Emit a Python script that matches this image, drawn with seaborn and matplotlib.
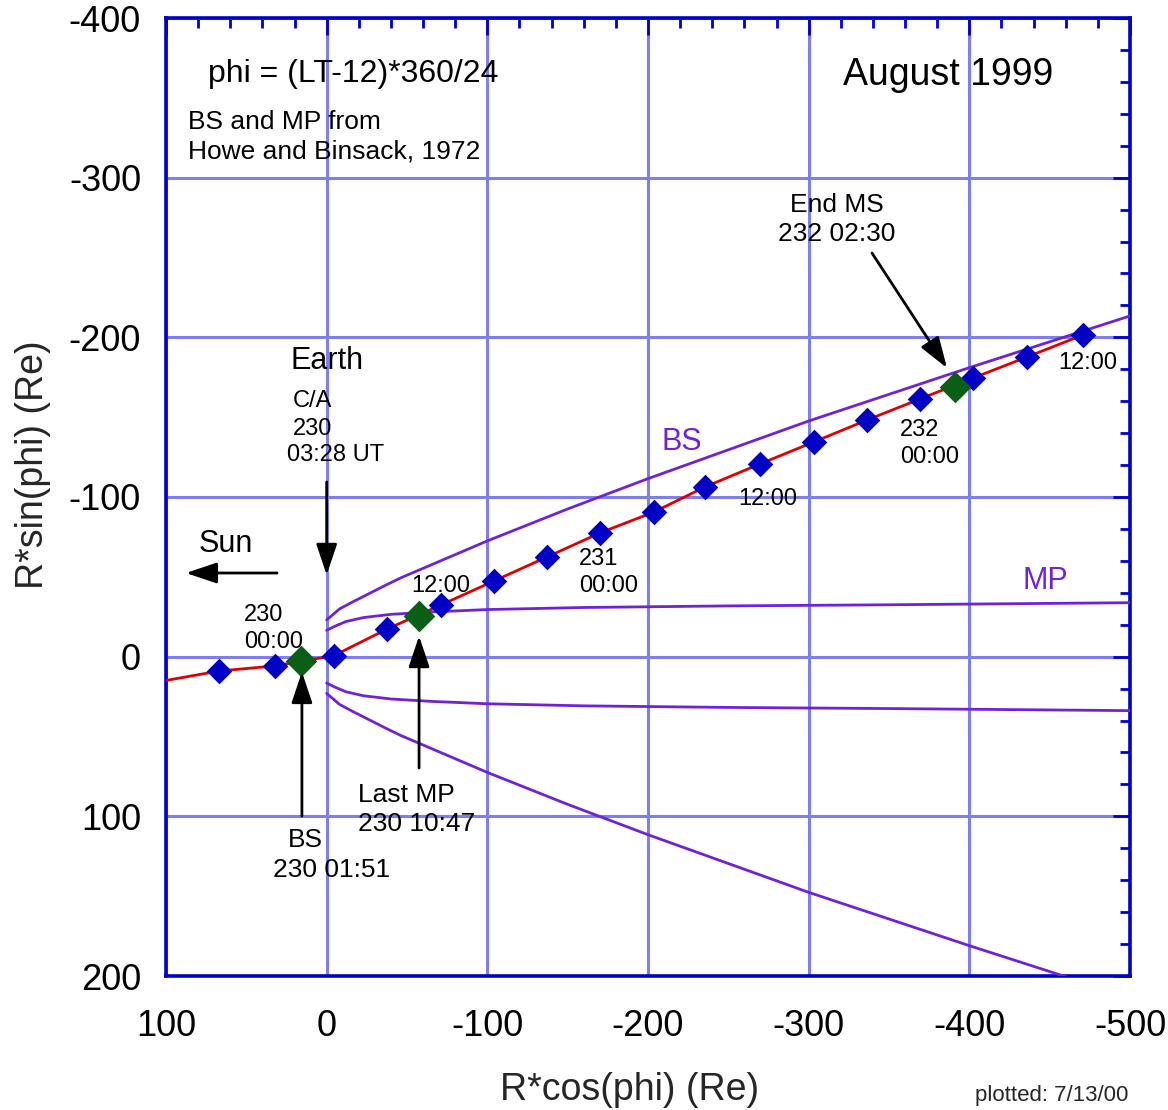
import matplotlib
matplotlib.use("Agg")
import matplotlib.pyplot as plt
from matplotlib.ticker import MultipleLocator
from matplotlib.patches import FancyArrowPatch
import seaborn as sns
import pandas as pd

# ---------------- data ----------------
# spacecraft positions every 4 h, starting 229 20:00 (blue diamonds)
traj_x = [67.0, 32.2, -4.6, -37.6, -71.2, -104.1, -137.1, -170.1, -203.7,
          -235.5, -269.7, -303.3, -336.3, -369.3, -402.3, -435.9, -470.7]
traj_y = [9.0, 5.8, -0.7, -17.3, -32.4, -47.4, -62.4, -77.5, -90.6,
          -106.3, -120.7, -134.5, -148.2, -161.4, -174.5, -187.7, -201.5]
# trajectory line start at the left frame edge
track_start_x = [100.0]
track_start_y = [14.9]
# boundary crossings (green diamonds): BS, Last MP, End MS
event_x = [16.0, -57.5, -391.1]
event_y = [2.7, -25.6, -168.9]
# bow shock (Howe and Binsack 1972), |R*sin(phi)| vs R*cos(phi)
bs_x = [0, -8, -16, -37, -46, -100, -150, -200, -300, -400, -500]
bs_r = [23.0, 29.9, 34.2, 44.9, 49.3, 72.5, 92.5, 111.5, 147.6, 181.0, 213.4]
# magnetopause
mp_x = [0, -5, -12, -23, -40, -65, -100, -160, -250, -350, -500]
mp_r = [16.5, 19.0, 22.0, 24.5, 26.5, 28.0, 29.5, 30.8, 31.8, 32.5, 33.8]

x_ticks = [100, 0, -100, -200, -300, -400, -500]
y_ticks = [-400, -300, -200, -100, 0, 100, 200]

# ---------------- style ----------------
sns.set_style("white")
plt.rcParams["font.family"] = ["Liberation Sans", "DejaVu Sans"]
plt.rcParams["axes.unicode_minus"] = False

BLUE_AX = "#0000cc"
GRID = "#7f7fea"
PURPLE = "#6f22d8"
RED = "#e00000"
DIAM_BLUE = "#0000c4"
DIAM_GREEN = "#0b5e16"

fig = plt.figure(figsize=(11.68, 11.10), dpi=100)
ax = fig.add_axes([166 / 1168, 1 - 976 / 1110, 964 / 1168, 958 / 1110])

# grid
ax.set_axisbelow(True)
ax.grid(True, which="major", color=GRID, lw=2.2, zorder=0)

# trajectory (red)
track = pd.DataFrame({"x": track_start_x + traj_x, "y": track_start_y + traj_y})
sns.lineplot(data=track, x="x", y="y", sort=False, estimator=None,
             color=RED, lw=2.0, ax=ax, zorder=3)

# bow shock and magnetopause (both flanks)
bs_up = pd.DataFrame({"x": bs_x, "y": [-v for v in bs_r]})
bs_lo = pd.DataFrame({"x": bs_x, "y": bs_r})
mp_up = pd.DataFrame({"x": mp_x, "y": [-v for v in mp_r]})
mp_lo = pd.DataFrame({"x": mp_x, "y": mp_r})
for d in (bs_up, bs_lo, mp_up, mp_lo):
    sns.lineplot(data=d, x="x", y="y", sort=False, estimator=None,
                 color=PURPLE, lw=2.0, ax=ax, zorder=4)

# diamonds
pts = pd.DataFrame({"x": traj_x, "y": traj_y})
sns.scatterplot(data=pts, x="x", y="y", marker="D", s=170, color=DIAM_BLUE,
                linewidth=0, ax=ax, zorder=6)
ev = pd.DataFrame({"x": event_x, "y": event_y})
sns.scatterplot(data=ev, x="x", y="y", marker="D", s=260, color=DIAM_GREEN,
                linewidth=0, ax=ax, zorder=7)

# axes
ax.set_xlim(100, -500)
ax.set_ylim(200, -400)
ax.set_xticks(x_ticks)
ax.set_yticks(y_ticks)
ax.xaxis.set_minor_locator(MultipleLocator(20))
ax.yaxis.set_minor_locator(MultipleLocator(20))
ax.tick_params(which="both", direction="in", top=True, right=True,
               color=BLUE_AX, labelcolor="black", width=2)
ax.tick_params(which="major", length=12, labelsize=26)
ax.tick_params(axis="x", which="major", pad=24)
ax.tick_params(axis="y", which="major", pad=18)
ax.tick_params(which="minor", length=7)
for s in ax.spines.values():
    s.set_color(BLUE_AX)
    s.set_linewidth(2.6)
ax.set_xlabel("")
ax.set_ylabel("")

fig.text(630 / 1168, 1 - 1090 / 1110, "R*cos(phi) (Re)", fontsize=27,
         ha="center", va="center")
fig.text(33 / 1168, 1 - 465 / 1110, "R*sin(phi) (Re)", fontsize=27,
         ha="center", va="center", rotation=90)
fig.text(975 / 1168, 1 - 1101 / 1110, "plotted: 7/13/00", fontsize=16,
         ha="left", va="baseline")

# ---------------- annotations ----------------
def txt(x, y, s, size, ha="left", color="black"):
    ax.text(x, y, s, fontsize=size, ha=ha, va="baseline", color=color, zorder=8)

txt(73.9, -359.9, "phi = (LT-12)*360/24", 23)
txt(-321.4, -358.0, "August 1999", 27)
txt(86.3, -330.5, "BS and MP from", 19)
txt(86.3, -311.7, "Howe and Binsack, 1972", 19)
txt(22.8, -180.2, "Earth", 22)
txt(21.0, -156.4, "C/A", 17)
txt(21.0, -138.8, "230", 17)
txt(24.7, -122.5, "03:28 UT", 17)
txt(79.5, -65.6, "Sun", 22)
txt(51.5, -22.3, "230", 17)
txt(51.5, -5.4, "00:00", 17)
txt(24.1, 119.2, "BS", 19)
txt(33.4, 138.0, "230 01:51", 19)
txt(-19.5, 91.0, "Last MP", 19)
txt(-19.5, 109.2, "230 10:47", 19)
txt(-52.5, -40.5, "12:00", 17)
txt(-157.0, -57.4, "231", 17)
txt(-157.0, -40.5, "00:00", 17)
txt(-256.0, -95.0, "12:00", 17)
txt(-356.8, -138.2, "232", 17)
txt(-356.8, -121.3, "00:00", 17)
txt(-455.2, -180.2, "12:00", 17)
txt(-317.6, -278.5, "End MS", 19, ha="center")
txt(-317.6, -260.3, "232 02:30", 19, ha="center")
txt(-208.1, -129.4, "BS", 22, color=PURPLE)
txt(-432.8, -42.4, "MP", 22, color=PURPLE)

def arrow(x0, y0, x1, y1):
    a = FancyArrowPatch((x0, y0), (x1, y1),
                        arrowstyle="-|>,head_length=0.95,head_width=0.32",
                        mutation_scale=20, lw=2.0, color="black",
                        shrinkA=0, shrinkB=0, zorder=9)
    ax.add_patch(a)

arrow(0, -109.4, 0, -51.2)          # C/A
arrow(30.9, -52.4, 87.6, -52.4)     # Sun
arrow(15.4, 99.8, 15.4, 9.6)        # BS crossing
arrow(-57.5, 69.7, -57.5, -12.9)    # Last MP
arrow(-339.4, -252.8, -386.1, -180.8)  # End MS

fig.savefig("out.png", dpi=100)
